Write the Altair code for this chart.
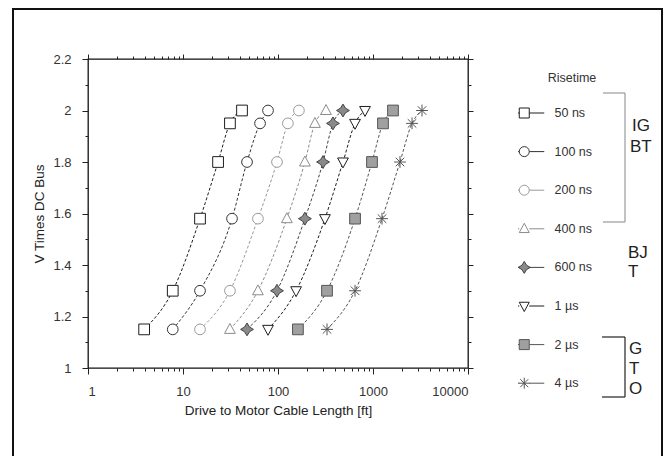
import altair as alt
import pandas as pd

# ---------------- data ----------------
series = ["50 ns", "100 ns", "200 ns", "400 ns", "600 ns", "1 µs", "2 µs", "4 µs"]
v_levels = [1.15, 1.3, 1.58, 1.8, 1.95, 2.0]

len_50ns = [3.9, 7.8, 15.1, 23.4, 31.2, 41.8]
len_100ns = [7.8, 15.1, 32.8, 47.2, 64.7, 78.5]
len_200ns = [15.1, 31.2, 61.5, 97.6, 127, 166]
len_400ns = [31.2, 61.5, 124, 192, 245, 320]
len_600ns = [47.2, 97.6, 192, 298, 379, 483]
len_1us = [78.5, 155, 312, 483, 647, 824]
len_2us = [162, 328, 647, 976, 1274, 1624]
len_4us = [328, 647, 1244, 1923, 2575, 3279]
lengths = [len_50ns, len_100ns, len_200ns, len_400ns, len_600ns, len_1us, len_2us, len_4us]

x_major = [1, 10, 100, 1000, 10000]
y_ticks = [1.0, 1.1, 1.2, 1.3, 1.4, 1.5, 1.6, 1.7, 1.8, 1.9, 2.0, 2.1, 2.2]

rows = []
for s, ls in zip(series, lengths):
    for i, (L, v) in enumerate(zip(ls, v_levels)):
        rows.append({"series": s, "length": L, "v": v, "idx": i})
df = pd.DataFrame(rows)

# ---------------- styles ----------------
FONT = "Liberation Sans"
stroke_colors = ["#1e1e1e", "#333333", "#9a9a9a", "#8c8c8c", "#444444", "#1e1e1e", "#555555", "#555555"]
fill_colors = ["white", "white", "white", "white", "#8a8a8a", "white", "#a0a0a0", "white"]

SQ = "M-1,-1H1V1H-1Z"
CI = "M-1,0A1,1,0,1,1,1,0A1,1,0,1,1,-1,0Z"
TU = "M0,-1.1L1,0.75L-1,0.75Z"
ST4 = "M0,-1.2L0.45,-0.45L1.2,0L0.45,0.45L0,1.2L-0.45,0.45L-1.2,0L-0.45,-0.45Z"
TD = "M0,1.1L1,-0.75L-1,-0.75Z"
AS = "M-1.1,0L1.1,0M0,-1.1L0,1.1M-0.8,-0.8L0.8,0.8M-0.8,0.8L0.8,-0.8"
marker_paths = [SQ, CI, CI, TU, ST4, TD, SQ, AS]
LINE = "M-4,0L-1,0M1,0L4,0"
legend_paths = [LINE + p for p in marker_paths]

x_ticks = [m * d for d in [1, 10, 100, 1000] for m in range(1, 10)] + [10000]
x_major_test = "indexof([1,10,100,1000,10000], datum.value) >= 0"
y_major_test = "abs(datum.value*5 - round(datum.value*5)) < 0.01"

x_scale = alt.Scale(type="log", domain=[1, 10000], nice=False)
y_scale = alt.Scale(domain=[1, 2.2], nice=False, zero=False)

common_axis = dict(grid=False, domain=False, tickColor="#222", labelColor="#333",
                   labelFont=FONT, labelFontSize=13, titleFont=FONT, titleFontSize=13.5,
                   titleFontWeight="normal", titleColor="#222")

x_axis = alt.Axis(values=x_ticks, title="Drive to Motor Cable Length [ft]",
                  labelExpr=f"{x_major_test} ? format(datum.value, 'd') : ''",
                  tickSize={"condition": {"test": x_major_test, "value": 6}, "value": 3},
                  labelPadding=11, titlePadding=5, **common_axis)
y_axis = alt.Axis(values=y_ticks, title="V Times DC Bus",
                  labelExpr=f"{y_major_test} ? format(datum.value, '~g') : ''",
                  tickSize={"condition": {"test": y_major_test, "value": 6}, "value": 3},
                  labelPadding=11, titlePadding=6, **common_axis)
x_axis_top = alt.Axis(values=x_ticks, title=None, orient="top", labels=False,
                      tickSize={"condition": {"test": x_major_test, "value": 5}, "value": 3},
                      grid=False, domain=False, tickColor="#222")
y_axis_right = alt.Axis(values=y_ticks, title=None, orient="right", labels=False,
                        tickSize={"condition": {"test": y_major_test, "value": 5}, "value": 3},
                        grid=False, domain=False, tickColor="#222")

stroke_scale = alt.Scale(domain=series, range=stroke_colors)
fill_scale = alt.Scale(domain=series, range=fill_colors)

base = alt.Chart(df)

lines = base.mark_line(interpolate="monotone", strokeWidth=1, strokeDash=[3, 2]).encode(
    x=alt.X("length:Q", scale=x_scale, axis=x_axis),
    y=alt.Y("v:Q", scale=y_scale, axis=y_axis),
    stroke=alt.Stroke("series:N", scale=stroke_scale, legend=None),
    detail="series:N",
    order="idx:Q",
)

points = base.mark_point(filled=False, opacity=1, strokeWidth=1, size=115).encode(
    x=alt.X("length:Q", scale=x_scale, axis=x_axis_top),
    y=alt.Y("v:Q", scale=y_scale, axis=y_axis_right),
    shape=alt.Shape("series:N", scale=alt.Scale(domain=series, range=marker_paths), legend=None),
    stroke=alt.Stroke("series:N", scale=stroke_scale, legend=None),
    fill=alt.Fill("series:N", scale=fill_scale, legend=None),
)

leg = alt.Legend(title=None, orient="none", legendX=430, legendY=46,
                 symbolSize=100, symbolStrokeWidth=1, labelOffset=24,
                 labelFont=FONT, labelFontSize=12.5, labelColor="#333",
                 clipHeight=16, rowPadding=22.6, symbolOpacity=1)

legend_layer = base.transform_filter("false").mark_point(filled=False, opacity=1).encode(
    x=alt.X("length:Q", scale=x_scale, axis=None),
    y=alt.Y("v:Q", scale=y_scale, axis=None),
    shape=alt.Shape("series:N", scale=alt.Scale(domain=series, range=legend_paths), legend=leg),
    stroke=alt.Stroke("series:N", scale=stroke_scale, legend=leg),
    fill=alt.Fill("series:N", scale=fill_scale, legend=leg),
)

# ---------------- annotations (layout, pixel space) ----------------
title_df = pd.DataFrame({"t": ["Risetime"], "px": [484], "py": [19]})
risetime = alt.Chart(title_df).mark_text(font=FONT, fontSize=12.5, color="#333",
                                         align="center", baseline="middle").encode(
    x=alt.X("px:Q", scale=None, axis=None), y=alt.Y("py:Q", scale=None, axis=None), text="t:N")

grp_df = pd.DataFrame({
    "t": ["IG", "BT", "BJ", "T", "G", "T", "O"],
    "px": [544, 542, 540, 540, 541, 541, 541],
    "py": [67, 88, 194, 213, 290, 310, 330],
})
groups = alt.Chart(grp_df).mark_text(font=FONT, fontSize=17, color="#222",
                                     align="left", baseline="middle").encode(
    x=alt.X("px:Q", scale=None, axis=None), y=alt.Y("py:Q", scale=None, axis=None), text="t:N")

br_df = pd.DataFrame({
    "x1": [515, 537, 515, 514, 537, 514],
    "x2": [537, 537, 537, 537, 537, 537],
    "y1": [34, 34, 163, 278, 278, 338],
    "y2": [34, 163, 163, 278, 338, 338],
    "c": ["a", "a", "a", "b", "b", "b"],
})
brackets = alt.Chart(br_df).mark_rule(strokeWidth=1.2).encode(
    x=alt.X("x1:Q", scale=None, axis=None), x2="x2:Q",
    y=alt.Y("y1:Q", scale=None, axis=None), y2="y2:Q",
    color=alt.Color("c:N", scale=alt.Scale(domain=["a", "b"], range=["#9a9a9a", "#222"]), legend=None),
)

frame = alt.Chart(pd.DataFrame({"a": [0]})).mark_rect(fillOpacity=0, stroke="#111", strokeWidth=2).encode(
    x=alt.value(-75), x2=alt.value(574), y=alt.value(-50), y2=alt.value(430))

chart = alt.layer(lines, points, legend_layer, risetime, groups, brackets, frame).resolve_scale(
    shape="independent", stroke="independent", fill="independent", color="independent"
).resolve_axis(x="independent", y="independent").properties(
    width=380, height=309,
    autosize=alt.AutoSizeParams(type="none"),
    padding={"left": 80, "top": 51, "right": 196, "bottom": 88},
    background="white",
).configure_view(stroke="#111", strokeWidth=1.3)

chart.save("out.html", embed_options={"renderer": "svg", "actions": False})
